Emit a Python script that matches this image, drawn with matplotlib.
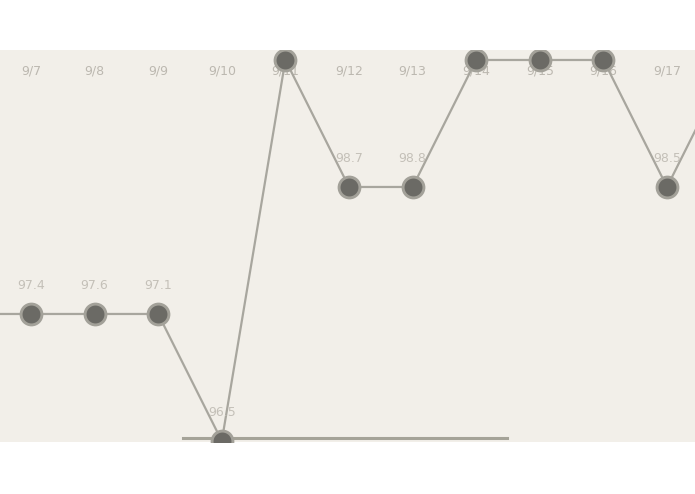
import numpy as np
import matplotlib
matplotlib.use("Agg")
import matplotlib.pyplot as plt
import matplotlib.transforms as mtransforms

# daily temperatures, 9/6 and 9/18 lie just outside the visible window
dates = ["9/6", "9/7", "9/8", "9/9", "9/10", "9/11", "9/12", "9/13",
         "9/14", "9/15", "9/16", "9/17", "9/18"]
temps = [97.2, 97.4, 97.6, 97.1, 96.5, 99.1, 98.7, 98.8,
         99.2, 99.0, 99.1, 98.5, 99.2]


def main():
    x = np.arange(len(dates)) - 1
    level = np.floor(temps)
    xmin, xmax = -0.487, 10.44

    fig = plt.figure(figsize=(6.95, 4.94), dpi=100)
    ax = fig.add_axes([0, 0.1053, 1, 0.7935])
    ax.set_facecolor("#f2efe9")

    ax.plot(x, level, color="#a8a69e", lw=1.6, zorder=2)
    ax.plot(x, level, "o", ms=15, mfc="#6b6a65", mec="#a3a199", mew=2.1, zorder=3)

    trans = mtransforms.blended_transform_factory(ax.transData, ax.transAxes)
    for xi, yi, t, d in zip(x, level, temps, dates):
        if xi < xmin or xi > xmax:
            continue
        ax.annotate("%.1f" % t, (xi, yi), xytext=(0, 28), textcoords="offset pixels",
                    ha="center", va="center", fontsize=9, color="#c4c0b8",
                    annotation_clip=True, clip_on=True)
        ax.text(xi, 0.946, d, transform=trans, ha="center", va="center",
                fontsize=9, color="#bcb8b0", zorder=1, clip_on=True)

    ax.axhline(96.024, xmin=0.263, xmax=0.73, color="#a5a398", lw=2.2, zorder=2)

    ax.set_xlim(xmin, xmax)
    ax.set_ylim(95.992, 99.0787)
    ax.set_xticks([])
    ax.set_yticks([])
    for s in ax.spines.values():
        s.set_visible(False)

    fig.savefig("out.png", dpi=100)


if __name__ == "__main__":
    main()
